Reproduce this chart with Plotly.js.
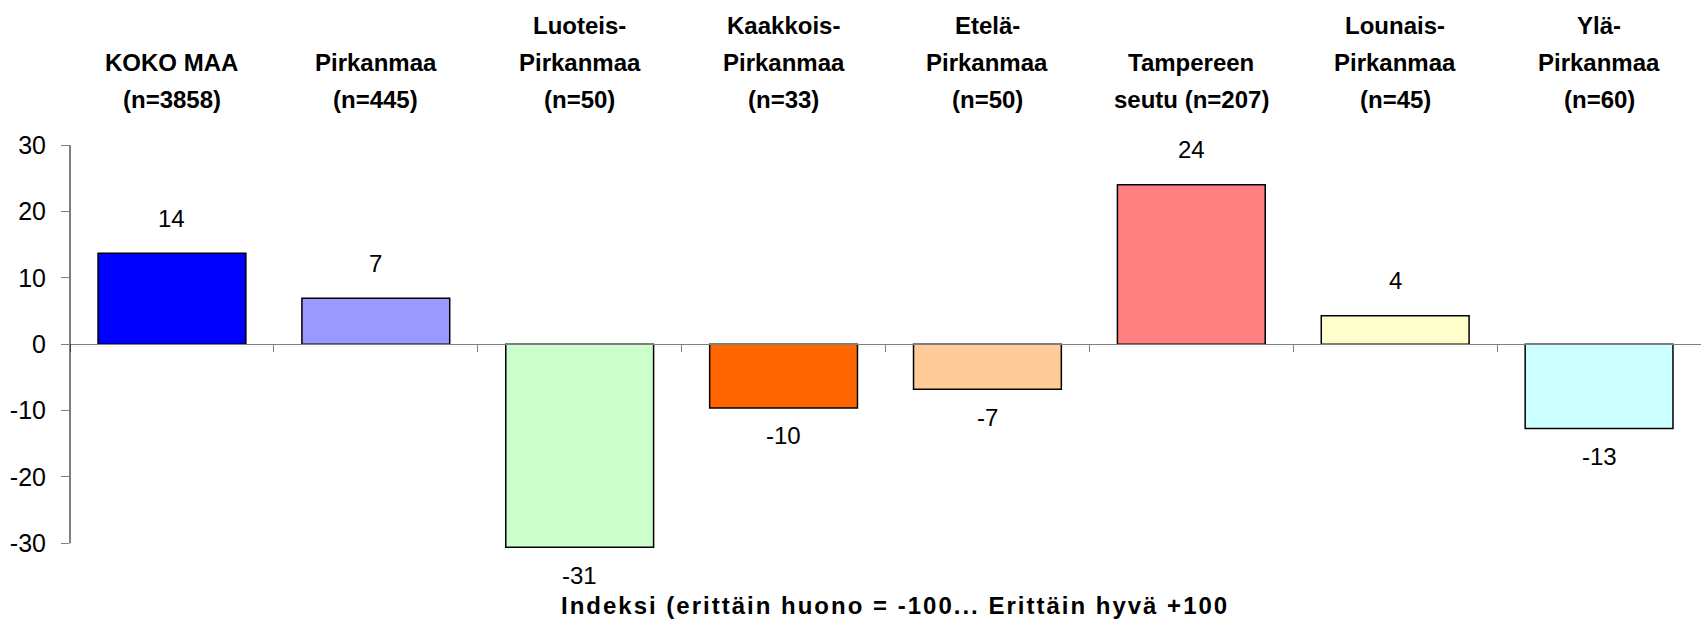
<!DOCTYPE html>
<html>
<head>
<meta charset="utf-8">
<script src="https://cdn.plot.ly/plotly-3.0.1.min.js"></script>
<style>
html,body{margin:0;padding:0;background:#fff;}
#chart{width:1701px;height:621px;}
.spaced text{letter-spacing:2px;}
</style>
</head>
<body>
<div id="chart"></div>
<script>
// Category labels (each entry = lines of the label)
var categoryLines = [
  ["KOKO MAA", "(n=3858)"],
  ["Pirkanmaa", "(n=445)"],
  ["Luoteis-", "Pirkanmaa", "(n=50)"],
  ["Kaakkois-", "Pirkanmaa", "(n=33)"],
  ["Etelä-", "Pirkanmaa", "(n=50)"],
  ["Tampereen", "seutu (n=207)"],
  ["Lounais-", "Pirkanmaa", "(n=45)"],
  ["Ylä-", "Pirkanmaa", "(n=60)"]
];
var values = [13.7, 6.9, -30.6, -9.6, -6.8, 24.0, 4.3, -12.7];
var barColors = ["#0000FF", "#9999FF", "#CCFFCC", "#FF6600", "#FFCC99", "#FF8080", "#FFFFCC", "#CCFFFF"];
var yTickVals = [-30, -20, -10, 0, 10, 20, 30];
var yTickText = ["-30", "-20", "-10", "0", "10", "20", "30"];
var axisTitle = "Indeksi (erittäin huono = -100... Erittäin hyvä +100";

var FONT = "Liberation Sans, Arial, sans-serif";
var categories = categoryLines.map(function (l) { return l.join(" "); });
var yAxisSpan = [-30, 30];      // span of the drawn axis line
var yRange = [-31, 30];         // plotted range (lets the lowest bar extend below the axis end)

var trace = {
  type: "bar",
  x: categories,
  y: values,
  marker: { color: barColors, line: { color: "#000000", width: 1.5 } },
  hoverinfo: "x+y"
};

var annotations = [];
// value labels
values.forEach(function (v, i) {
  annotations.push({
    x: categories[i], y: v, xref: "x", yref: "y",
    text: String(Math.round(v)),
    showarrow: false, xanchor: "center", yanchor: "middle",
    yshift: v >= 0 ? 35 : -28,
    font: { family: FONT, size: 24, color: "#000" }
  });
});
// category labels (bottom aligned, three line slots)
var lineShift = [120, 83, 46];
categoryLines.forEach(function (lines, i) {
  var offset = 3 - lines.length;
  lines.forEach(function (t, j) {
    annotations.push({
      x: categories[i], y: 1, xref: "x", yref: "paper",
      text: "<b>" + t + "</b>",
      showarrow: false, xanchor: "center", yanchor: "middle",
      yshift: lineShift[j + offset],
      font: { family: FONT, size: 24, color: "#000" }
    });
  });
});
// axis title at bottom
var titleIndex = annotations.length;
annotations.push({
  x: 0.506, y: 0, xref: "paper", yref: "paper",
  text: "<b>" + axisTitle + "</b>",
  showarrow: false, xanchor: "center", yanchor: "middle",
  yshift: -55,
  font: { family: FONT, size: 24, color: "#000" }
});

var layout = {
  width: 1701, height: 621,
  margin: { l: 70, r: 0, t: 145, b: 71 },
  paper_bgcolor: "#ffffff", plot_bgcolor: "#ffffff",
  showlegend: false,
  bargap: 0.275,
  font: { family: FONT, size: 24, color: "#000" },
  xaxis: {
    type: "category",
    anchor: "free",
    position: (0 - yRange[0]) / (yRange[1] - yRange[0]),
    showline: true, linecolor: "#808080", linewidth: 1,
    ticks: "outside", tickson: "boundaries", ticklen: 7, tickcolor: "#808080", tickwidth: 1,
    showticklabels: false, showgrid: false, zeroline: false,
    fixedrange: true
  },
  yaxis: {
    range: yRange,
    tickvals: yTickVals,
    ticktext: yTickText,
    showline: false,
    ticks: "outside", ticklen: 8, tickcolor: "#808080", tickwidth: 1,
    ticklabelstandoff: 10,
    tickfont: { family: FONT, size: 25, color: "#000" },
    showgrid: false, zeroline: false,
    fixedrange: true
  },
  shapes: [{
    type: "line", xref: "paper", yref: "y",
    x0: 0, x1: 0, y0: yAxisSpan[0], y1: yAxisSpan[1],
    line: { color: "#000000", width: 1 }
  }],
  annotations: annotations
};

Plotly.newPlot("chart", [trace], layout, { displayModeBar: false, staticPlot: true }).then(function () {
  var el = document.querySelector('#chart .annotation[data-index="' + titleIndex + '"]');
  if (el) el.classList.add("spaced");
});
</script>
</body>
</html>
